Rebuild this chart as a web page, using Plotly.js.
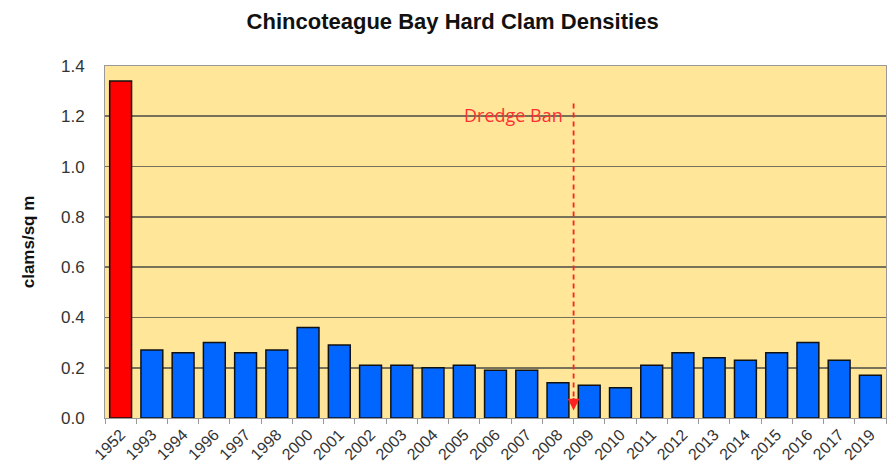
<!DOCTYPE html>
<html>
<head>
<meta charset="utf-8">
<script src="https://cdn.plot.ly/plotly-3.0.1.min.js"></script>
<style>html,body{margin:0;padding:0;background:#fff;}#chart{width:891px;height:475px;}</style>
</head>
<body>
<div id="chart"></div>
<script>
const years = ["1952","1993","1994","1996","1997","1998","2000","2001","2002","2003","2004","2005","2006","2007","2008","2009","2010","2011","2012","2013","2014","2015","2016","2017","2019"];
const densities = [1.34,0.27,0.26,0.30,0.26,0.27,0.36,0.29,0.21,0.21,0.20,0.21,0.19,0.19,0.14,0.13,0.12,0.21,0.26,0.24,0.23,0.26,0.30,0.23,0.17];
const highlightYear = "1952";
const banLabel = "Dredge Ban";
const banPosition = 14.5; // between 2008 and 2009
const yTicks = [0,0.2,0.4,0.6,0.8,1.0,1.2,1.4];

const colors = years.map(y => y === highlightYear ? "#FF0000" : "#0066FF");

const trace = {
  type: "bar",
  x: years,
  y: densities,
  marker: {color: colors, line: {color: "#111", width: 1.5}},
  hoverinfo: "x+y"
};

const layout = {
  width: 891, height: 475,
  margin: {l: 105, r: 5, t: 66, b: 57},
  paper_bgcolor: "#ffffff",
  plot_bgcolor: "#FFE699",
  bargap: 0.3,
  showlegend: false,
  title: {text: "Chincoteague Bay Hard Clam Densities", x: 0.508, xanchor: "center", y: 0.955, yanchor: "middle",
          font: {family: "Liberation Sans, Arial, sans-serif", size: 22, color: "#111", weight: "bold"}},
  xaxis: {
    type: "category",
    tickangle: -45,
    tickson: "boundaries",
    ticks: "outside", ticklen: 5, tickcolor: "#999",
    showline: true, linecolor: "#999", linewidth: 1, mirror: true,
    showgrid: false,
    tickfont: {family: "Liberation Sans, Arial, sans-serif", size: 16, color: "#333"}
  },
  yaxis: {
    range: [0, 1.4],
    tickvals: yTicks,
    ticktext: yTicks.map(v => v.toFixed(1)),
    showgrid: true, gridcolor: "#77715a", gridwidth: 1.8,
    showline: true, linecolor: "#999", linewidth: 1, mirror: true,
    zeroline: false,
    ticks: "", ticklabelstandoff: 16,
    tickfont: {family: "Liberation Sans, Arial, sans-serif", size: 17, color: "#333"},
    title: {text: "clams/sq m", standoff: 22, font: {family: "Liberation Sans, Arial, sans-serif", size: 17, color: "#111", weight: "bold"}}
  },
  shapes: [{
    type: "line", xref: "x", yref: "y",
    x0: banPosition, x1: banPosition, y0: 0.05, y1: 1.265,
    line: {color: "#FF2020", width: 1.8, dash: "5px,4px"}
  }],
  annotations: [
    {x: banPosition, y: 1.205, xref: "x", yref: "y", text: banLabel, showarrow: false,
     xanchor: "right", xshift: -9,
     font: {family: "Open Sans, sans-serif", size: 18, color: "#FF3030"}},
    {x: banPosition, y: 0.03, xref: "x", yref: "y", text: "", showarrow: true,
     ax: 0, ay: -14, arrowhead: 2, arrowsize: 1.3, arrowwidth: 1.8, arrowcolor: "#FF2020"}
  ]
};

Plotly.newPlot("chart", [trace], layout, {displayModeBar: false, staticPlot: true});
</script>
</body>
</html>
